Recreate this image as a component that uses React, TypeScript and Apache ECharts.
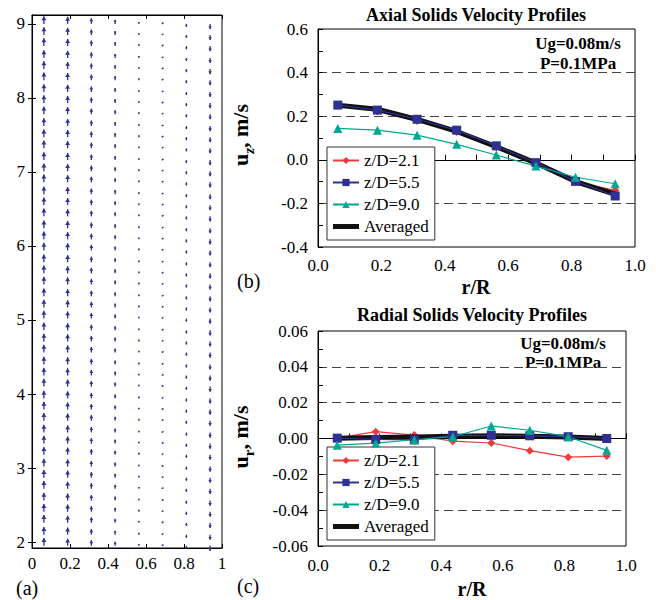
import React, { useEffect, useRef } from 'react';
import * as echarts from 'echarts';

const FONT = 'Liberation Serif';

// radial positions r/R
const R = [0.0625, 0.1875, 0.3125, 0.4375, 0.5625, 0.6875, 0.8125, 0.9375];

// (b) axial solids velocity u_z (m/s)
const axialZ21 = [0.248, 0.222, 0.178, 0.128, 0.058, -0.018, -0.102, -0.14];
const axialZ55 = [0.251, 0.228, 0.186, 0.136, 0.064, -0.013, -0.099, -0.166];
const axialZ90 = [0.144, 0.136, 0.113, 0.071, 0.022, -0.029, -0.08, -0.11];
const axialAvg = [0.25, 0.232, 0.185, 0.13, 0.06, -0.015, -0.1, -0.158];

// (c) radial solids velocity u_r (m/s)
const radialZ21 = [0.0002, 0.0038, 0.0019, -0.0015, -0.0025, -0.0068, -0.0104, -0.0098];
const radialZ55 = [0.0002, -0.0005, -0.0008, 0.0018, 0.0018, 0.0015, 0.001, 0.0];
const radialZ90 = [-0.0037, -0.0026, -0.0007, 0.001, 0.007, 0.0046, 0.001, -0.0066];
const radialAvg = [0.0002, 0.0006, 0.0009, 0.0012, 0.0015, 0.0012, 0.0009, 0.0];

// (a) vector field: row heights (z) and axial velocity per column
const fieldZ = [
  1.95, 2.1, 2.26, 2.41, 2.56, 2.72, 2.87, 3.02, 3.18, 3.33, 3.48, 3.64, 3.79, 3.94, 4.1, 4.25,
  4.4, 4.56, 4.71, 4.86, 5.02, 5.17, 5.32, 5.48, 5.63, 5.78, 5.94, 6.09, 6.24, 6.4, 6.55, 6.7,
  6.86, 7.01, 7.16, 7.32, 7.47, 7.62, 7.78, 7.93, 8.08, 8.24, 8.39, 8.54, 8.7, 8.85, 9.0,
];
const fieldUz = [0.25, 0.23, 0.18, 0.13, 0.06, -0.015, -0.1, -0.165];

const RED = '#ee3a3a';
const BLUE = '#2e3192';
const GREEN = '#00a88f';
const BLACK = '#111111';
const ARROW = '#2e3192';
const ARROW_SCALE = 31;

const pairs = (ys: number[]) => R.map((r, i) => [r, ys[i]]);

export default function App() {
  const ref = useRef<HTMLDivElement>(null);
  useEffect(() => {
    if (!ref.current) return;
    const chart = echarts.init(ref.current, null, { renderer: 'svg', width: 656, height: 600 });

    const fieldData: number[][] = [];
    fieldZ.forEach((z) => R.forEach((r, j) => fieldData.push([r, z, fieldUz[j]])));

    const axisLineBlack = { lineStyle: { color: '#000', width: 1 } };
    const dashed = { show: true, showMinLine: false, showMaxLine: false, lineStyle: { type: [9, 5], color: '#444', width: 1 } };
    const tickLbl = { color: '#000', fontSize: 17, fontFamily: FONT };

    const lineSeries = (name: string, data: number[][], xi: number, color: string, symbol: string, size: number, width: number, z: number) => ({
      name,
      type: 'line',
      xAxisIndex: xi,
      yAxisIndex: xi,
      data,
      color,
      symbol,
      symbolSize: size,
      showSymbol: symbol !== 'none',
      lineStyle: { color, width },
      itemStyle: { color },
      z,
      silent: true,
    });

    const legendBase = {
      data: [
        { name: 'z/D=2.1' },
        { name: 'z/D=5.5' },
        { name: 'z/D=9.0' },
        { name: 'Averaged', icon: 'path://M0,0H52V10H0Z', itemStyle: { color: BLACK } },
      ],
      orient: 'vertical',
      left: 327,
      padding: [5, 6, 5, 5],
      itemGap: 5,
      itemWidth: 26,
      itemHeight: 9,
      symbolKeepAspect: true,
      backgroundColor: '#fff',
      borderColor: '#333',
      borderWidth: 1,
      selectedMode: false,
      textStyle: { fontSize: 17, fontFamily: FONT, color: '#000' },
    };

    const txt = (text: string, x: number, y: number, size: number, bold: boolean, align = 'center') => ({
      type: 'text',
      x,
      y,
      style: {
        text,
        x: 0,
        y: 0,
        align,
        verticalAlign: 'middle',
        fontSize: size,
        fontWeight: bold ? 'bold' : 'normal',
        fontFamily: FONT,
        fill: '#000',
      },
    });

    const yName = (sub: string, x: number, y: number) => ({
      type: 'text',
      x,
      y,
      rotation: Math.PI / 2,
      style: {
        text: `{b|u}{s|${sub}}{b|, m/s}`,
        x: 0,
        y: 0,
        align: 'center',
        verticalAlign: 'middle',
        fontFamily: FONT,
        fill: '#000',
        rich: {
          b: { fontSize: 22, fontWeight: 'bold', fontFamily: FONT, padding: [0, 0, 5, 0], verticalAlign: 'bottom' },
          s: { fontSize: 15, fontWeight: 'bold', fontStyle: sub === 'z' ? 'italic' : 'normal', fontFamily: FONT, verticalAlign: 'bottom' },
        },
      },
    });

    const option: any = {
      animation: false,
      backgroundColor: '#fff',
      textStyle: { fontFamily: FONT },
      grid: [
        { left: 32, top: 15, width: 190, height: 533, show: true, borderColor: '#000', borderWidth: 1 },
        { left: 318, top: 29, width: 317, height: 218, show: true, borderColor: '#000', borderWidth: 1 },
        { left: 318, top: 331, width: 308, height: 215, show: true, borderColor: '#000', borderWidth: 1 },
      ],
      xAxis: [
        {
          gridIndex: 0, type: 'value', min: 0, max: 1, interval: 0.2,
          axisLine: axisLineBlack, axisTick: { inside: true, length: 4, lineStyle: { color: '#000' } },
          axisLabel: { ...tickLbl, margin: 7 }, splitLine: { show: false },
        },
        {
          gridIndex: 0, type: 'value', position: 'top', min: 0, max: 1, interval: 0.2,
          axisLine: axisLineBlack, axisTick: { inside: true, length: 4, lineStyle: { color: '#000' } },
          axisLabel: { show: false }, splitLine: { show: false },
        },
        {
          gridIndex: 1, type: 'value', min: 0, max: 1, interval: 0.2,
          axisLine: axisLineBlack, axisTick: { inside: true, length: 5, lineStyle: { color: '#000' } },
          minorTick: { show: true, splitNumber: 2, length: 5, lineStyle: { color: '#000' } },
          axisLabel: { ...tickLbl, margin: 10, formatter: (v: number) => v.toFixed(1) }, splitLine: { show: false },
        },
        {
          gridIndex: 2, type: 'value', min: 0, max: 1, interval: 0.2,
          axisLine: axisLineBlack, axisTick: { inside: true, length: 5, lineStyle: { color: '#000' } },
          minorTick: { show: true, splitNumber: 2, length: 5, lineStyle: { color: '#000' } },
          axisLabel: { ...tickLbl, margin: 11, formatter: (v: number) => v.toFixed(1) }, splitLine: { show: false },
        },
      ],
      yAxis: [
        {
          gridIndex: 0, type: 'value', min: 1.92, max: 9.12,
          axisLine: axisLineBlack,
          axisTick: { inside: true, length: 4, customValues: [2, 3, 4, 5, 6, 7, 8, 9], lineStyle: { color: '#000' } },
          axisLabel: { ...tickLbl, margin: 7, customValues: [2, 3, 4, 5, 6, 7, 8, 9] }, splitLine: { show: false },
        },
        {
          gridIndex: 0, type: 'value', position: 'right', min: 1.92, max: 9.12,
          axisLine: axisLineBlack,
          axisTick: { inside: true, length: 4, customValues: [2, 3, 4, 5, 6, 7, 8, 9], lineStyle: { color: '#000' } },
          axisLabel: { show: false }, splitLine: { show: false },
        },
        {
          gridIndex: 1, type: 'value', min: -0.4, max: 0.6, interval: 0.2,
          axisLine: axisLineBlack, axisTick: { inside: true, length: 5, lineStyle: { color: '#000' } },
          minorTick: { show: true, splitNumber: 2, length: 5, lineStyle: { color: '#000' } },
          axisLabel: { ...tickLbl, margin: 10, formatter: (v: number) => v.toFixed(1) }, splitLine: dashed,
        },
        {
          gridIndex: 2, type: 'value', min: -0.06, max: 0.06, interval: 0.02,
          axisLine: axisLineBlack, axisTick: { inside: true, length: 5, lineStyle: { color: '#000' } },
          minorTick: { show: true, splitNumber: 2, length: 5, lineStyle: { color: '#000' } },
          axisLabel: { ...tickLbl, margin: 10, formatter: (v: number) => v.toFixed(2) }, splitLine: dashed,
        },
      ],
      legend: [
        { ...legendBase, top: 147 },
        { ...legendBase, top: 447 },
      ],
      series: [
        {
          type: 'custom',
          xAxisIndex: 0,
          yAxisIndex: 0,
          data: fieldData,
          silent: true,
          renderItem: (params: any, api: any) => {
            const p = api.coord([api.value(0), api.value(1)]);
            const u = api.value(2);
            const len = u * ARROW_SCALE;
            const x = p[0];
            const y0 = p[1];
            if (Math.abs(len) < 1.5) {
              return {
                type: 'line',
                shape: { x1: x - 0.8, y1: y0, x2: x + 0.8, y2: y0 - 1.2 },
                style: { stroke: ARROW, lineWidth: 1.4 },
              };
            }
            const y1 = y0 - len;
            const dir = len >= 0 ? -1 : 1;
            const absL = Math.abs(len);
            const head = Math.min(4, absL * 0.55);
            const hw = Math.max(1.2, head * 0.62);
            return {
              type: 'group',
              children: [
                { type: 'line', shape: { x1: x, y1: y0, x2: x, y2: y1 }, style: { stroke: ARROW, lineWidth: 1.3 } },
                {
                  type: 'polygon',
                  shape: { points: [[x, y1], [x - hw, y1 - dir * head], [x + hw, y1 - dir * head]] },
                  style: { fill: ARROW },
                },
              ],
            };
          },
        },
        lineSeries('z/D=2.1', pairs(axialZ21), 2, RED, 'diamond', 8, 1.2, 2),
        lineSeries('Averaged', pairs(axialAvg), 2, BLACK, 'none', 0, 5, 3),
        lineSeries('z/D=5.5', pairs(axialZ55), 2, BLUE, 'rect', 9, 1.2, 4),
        lineSeries('z/D=9.0', pairs(axialZ90), 2, GREEN, 'triangle', 9, 1.2, 4),
        lineSeries('z/D=2.1', pairs(radialZ21), 3, RED, 'diamond', 8, 1.2, 2),
        lineSeries('Averaged', pairs(radialAvg), 3, BLACK, 'none', 0, 5, 3),
        lineSeries('z/D=5.5', pairs(radialZ55), 3, BLUE, 'rect', 9, 1.2, 4),
        lineSeries('z/D=9.0', pairs(radialZ90), 3, GREEN, 'triangle', 9, 1.2, 4),
      ],
      graphic: [
        txt('(a)', 16, 588, 20, false, 'left'),
        txt('Axial Solids Velocity Profiles', 476, 15, 18, true),
        txt('Ug=0.08m/s', 578, 43, 17, true),
        txt('P=0.1MPa', 578, 63, 17, true),
        txt('r/R', 476, 287, 20, true),
        txt('(b)', 237, 281, 20, false, 'left'),
        yName('z', 243, 135),
        txt('Radial Solids Velocity Profiles', 472, 315, 18, true),
        txt('Ug=0.08m/s', 563, 343, 17, true),
        txt('P=0.1MPa', 563, 362, 17, true),
        txt('r/R', 472, 589, 20, true),
        txt('(c)', 237, 586, 20, false, 'left'),
        yName('r', 243, 437),
      ],
    };

    chart.setOption(option);
    return () => chart.dispose();
  }, []);
  return (
    <div
      ref={ref}
      style={{ position: 'fixed', left: 0, top: 0, width: 656, height: 600, background: '#fff' }}
    />
  );
}
